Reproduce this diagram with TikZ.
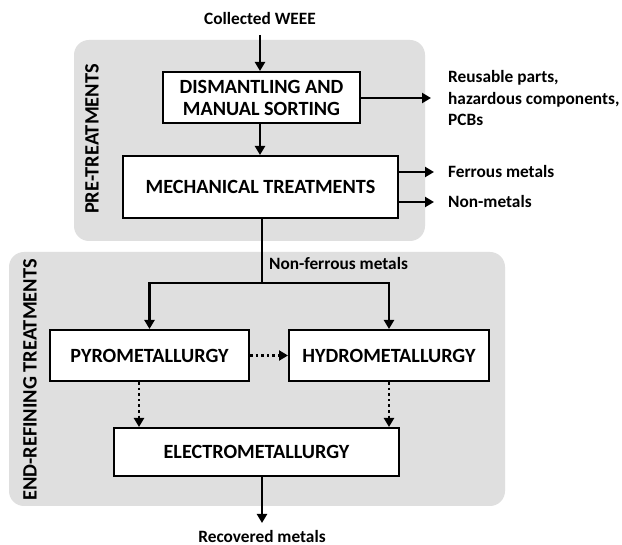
\documentclass[tikz,border=0pt]{standalone}
\usepackage{fontspec}
\setmainfont{Carlito}
\usetikzlibrary{arrows.meta,calc}
\begin{document}
\begin{tikzpicture}[x=1pt,y=-1pt,
  panel/.style={fill=gray!25,draw=none,rounded corners=15pt},
  box/.style={draw,fill=white,line width=2pt,font=\fontsize{20.2}{23}\selectfont\bfseries,inner sep=0pt},
  side/.style={font=\fontsize{17.3}{21.5}\selectfont\bfseries,anchor=west,align=left,inner sep=0pt},
  plabel/.style={font=\fontsize{20.4}{22}\selectfont\bfseries,rotate=90,inner sep=0pt},
  arr/.style={line width=2.6pt,-{Triangle[width=10pt,length=9pt]}},
  dotarr/.style={line width=2.6pt,dash pattern=on 2.6pt off 3pt,-{Triangle[width=10pt,length=9pt]}}]
\useasboundingbox (0,0) rectangle (622,545);
\fill[white] (0,0) rectangle (622,545);
% panels
\node[panel,minimum width=351pt,minimum height=201pt] (pre) at (249.5,140.5) {};
\node[panel,minimum width=496pt,minimum height=254pt] (end) at (257,379) {};
\node[plabel] (prel) at (92,139) {PRE-TREATMENTS};
\node[plabel] (endl) at (30,380) {END-REFINING TREATMENTS};
% boxes
\node[box,minimum width=197pt,minimum height=51pt,align=center] (dis) at (261.5,97.5) {DISMANTLING AND\\[-1pt]MANUAL SORTING};
\node[box,minimum width=275pt,minimum height=62pt] (mech) at (260.5,187) {MECHANICAL TREATMENTS};
\node[box,minimum width=199pt,minimum height=51pt] (pyro) at (149.5,355.5) {PYROMETALLURGY};
\node[box,minimum width=200pt,minimum height=51pt] (hydro) at (389,355.5) {HYDROMETALLURGY};
\node[box,minimum width=285pt,minimum height=48pt] (elec) at (256.5,452) {ELECTROMETALLURGY};
% texts
\node[font=\fontsize{17.3}{20}\selectfont\bfseries,inner sep=0pt] (in) at (260,18) {Collected WEEE};
\node[font=\fontsize{17.3}{20}\selectfont\bfseries,inner sep=0pt] (out) at (262,536) {Recovered metals};
\node[side] (reuse) at (448,98) {Reusable parts,\\hazardous components,\\PCBs};
\node[side] (ferr) at (448,171) {Ferrous metals};
\node[side] (nonm) at (448,201) {Non-metals};
\node[side] (nonf) at (269,263) {Non-ferrous metals};
% coordinates
\coordinate (inS) at (260,35);
\coordinate (outE) at (262,523);
\coordinate (br) at (262,283);
\coordinate (reuseA) at (431,98);
\coordinate (ferrA) at (434,172);
\coordinate (nonmA) at (434,202);
\coordinate (p1) at ([xshift=-10.5pt]pyro.south);
\coordinate (h1) at (hydro.south);
% connectors
\draw[arr] (inS) -- (inS |- dis.north);
\draw[arr] (dis.south -| inS) -- (inS |- mech.north);
\draw[arr] (dis.east |- reuseA) -- (reuseA);
\draw[arr] (mech.east |- ferrA) -- (ferrA);
\draw[arr] (mech.east |- nonmA) -- (nonmA);
\draw[line width=2.6pt] (mech.south -| br) -- (br);
\draw[arr] (br) -| (pyro.north);
\draw[arr] (br) -| (hydro.north);
\draw[dotarr] (pyro.east) -- (hydro.west);
\draw[dotarr] (p1) -- (p1 |- elec.north);
\draw[dotarr] (h1) -- (h1 |- elec.north);
\draw[arr] (elec.south -| br) -- (outE);
\end{tikzpicture}
\end{document}
